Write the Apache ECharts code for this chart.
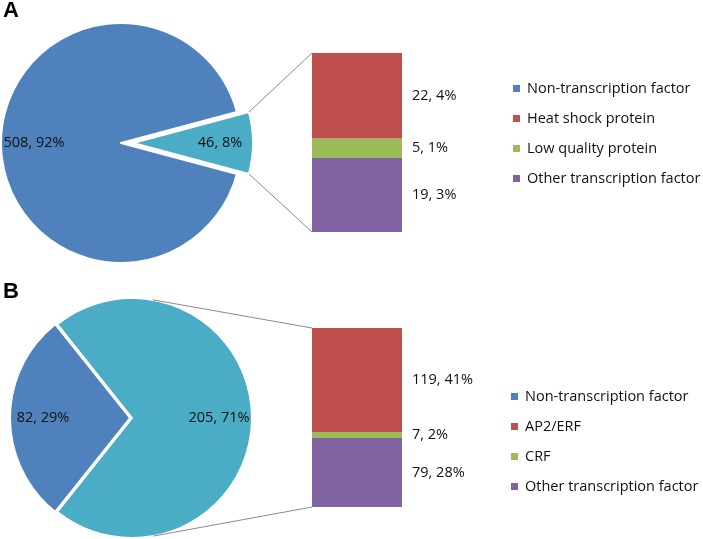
<!DOCTYPE html>
<html>
<head>
<meta charset="utf-8" />
<title></title>
<script type="text/javascript" src="https://cdn.jsdelivr.net/npm/echarts@6/dist/echarts.min.js"></script>
</head>
<body style="margin:0;background:#fff">
<div id="main" style="width:703px;height:539px;"></div>
<script>
// panel A
var pieNamesA = ['Non-transcription factor', 'Transcription factor'];
var pieValuesA = [508, 46];
var barNamesA = ['Heat shock protein', 'Low quality protein', 'Other transcription factor'];
var barValuesA = [22, 5, 19];
// panel B
var pieNamesB = ['Non-transcription factor', 'Transcription factor'];
var pieValuesB = [82, 205];
var barNamesB = ['AP2/ERF', 'CRF', 'Other transcription factor'];
var barValuesB = [119, 7, 79];

var pieColors = ['#4F81BD', '#4BACC6'];
var barColors = ['#C0504D', '#9BBB59', '#8064A2'];
var font = 'Open Sans';
var fontSize = 14.5;
var textColor = '#111';

function sum(a) { return a.reduce(function (s, v) { return s + v; }, 0); }

var R = 120;
var A = { center: [121, 143], offset: 12, grid: { left: 312, top: 53, width: 90, height: 179 } };
var B = { center: [132, 418], offset: 2, grid: { left: 312, top: 328, width: 90, height: 179 } };

// start angles so that the exploded part faces the bar
var fracA = pieValuesA[1] / sum(pieValuesA);
A.start = 360 - fracA * 360 / 2;            // transcription factor slice centered at 0 deg
var fracB = pieValuesB[0] / sum(pieValuesB);
B.start = 180 + fracB * 360 / 2;            // non-TF slice centered at 180 deg

function pieData(names, values, explode, color) {
  return names.map(function (n, i) {
    return {
      name: n, value: values[i], selected: i === explode,
      itemStyle: { color: color || pieColors[i] }
    };
  });
}

function pieSeries(names, values, cfg, explode, labelOnly) {
  var total = sum(values);
  return {
    type: 'pie',
    center: cfg.center,
    radius: labelOnly ? [R * 0.40, R] : [0, R],
    startAngle: cfg.start,
    clockwise: true,
    selectedMode: 'single',
    selectedOffset: cfg.offset,
    silent: true,
    animation: false,
    z: labelOnly ? 5 : 2,
    data: pieData(names, values, explode, labelOnly ? 'transparent' : null),
    itemStyle: labelOnly ? { borderWidth: 0 } : { borderColor: '#fff', borderWidth: 2 },
    select: { itemStyle: labelOnly ? { color: 'transparent', borderWidth: 0 } : { borderColor: '#fff', borderWidth: 2 } },
    label: {
      show: !!labelOnly, position: 'inside', fontFamily: font, fontSize: fontSize, color: textColor,
      formatter: function (p) { return p.value + ', ' + Math.round(p.value / total * 100) + '%'; }
    },
    labelLine: { show: false },
    emphasis: { disabled: true }
  };
}

function barSeries(names, values, grand, idx, stack) {
  // stack bottom-up: last item at bottom
  var out = [];
  for (var i = names.length - 1; i >= 0; i--) {
    out.push({
      name: names[i],
      type: 'bar',
      stack: stack,
      xAxisIndex: idx, yAxisIndex: idx,
      barWidth: '100%',
      animation: false,
      silent: true,
      itemStyle: { color: barColors[i] },
      label: {
        show: true, position: 'right', distance: 10,
        fontFamily: font, fontSize: fontSize, color: textColor,
        formatter: (function (v) { return v + ', ' + Math.round(v / grand * 100) + '%'; })(values[i])
      },
      data: [values[i]]
    });
  }
  return out;
}

function legend(left, top, names) {
  return {
    orient: 'vertical', left: left, top: top, padding: 0,
    icon: 'rect', itemWidth: 7, itemHeight: 7, itemGap: 15,
    selectedMode: false,
    itemStyle: { borderWidth: 0 },
    textStyle: { fontFamily: font, fontSize: fontSize, color: textColor, padding: [0, 0, 0, 2] },
    data: names
  };
}

var chart = echarts.init(document.getElementById('main'));
var option = {
  backgroundColor: '#fff',
  title: [
    { text: 'A', left: 3, top: 0, padding: 0, textStyle: { fontFamily: 'Liberation Sans', fontWeight: 'bold', fontSize: 22, color: '#000' } },
    { text: 'B', left: 3, top: 281, padding: 0, textStyle: { fontFamily: 'Liberation Sans', fontWeight: 'bold', fontSize: 22, color: '#000' } }
  ],
  legend: [
    legend(513, 81, [pieNamesA[0]].concat(barNamesA)),
    legend(511, 389, [pieNamesB[0]].concat(barNamesB))
  ],
  grid: [
    { left: A.grid.left, top: A.grid.top, width: A.grid.width, height: A.grid.height },
    { left: B.grid.left, top: B.grid.top, width: B.grid.width, height: B.grid.height }
  ],
  xAxis: [
    { type: 'category', gridIndex: 0, data: [''], show: false },
    { type: 'category', gridIndex: 1, data: [''], show: false }
  ],
  yAxis: [
    { type: 'value', gridIndex: 0, min: 0, max: sum(barValuesA), show: false },
    { type: 'value', gridIndex: 1, min: 0, max: sum(barValuesB), show: false }
  ],
  series: [].concat(
    pieSeries(pieNamesA, pieValuesA, A, 1, false),
    pieSeries(pieNamesA, pieValuesA, A, 1, true),
    pieSeries(pieNamesB, pieValuesB, B, 0, false),
    pieSeries(pieNamesB, pieValuesB, B, 0, true),
    barSeries(barNamesA, barValuesA, sum(pieValuesA), 0, 'a'),
    barSeries(barNamesB, barValuesB, sum(pieValuesB), 1, 'b')
  )
};
chart.setOption(option);

// connector lines between pie and bar
var lineStyle = { stroke: '#8a8a8a', lineWidth: 1 };
function rad(d) { return d * Math.PI / 180; }
var graphics = [];

// A: from the exploded slice corners to the bar corners
var topA = chart.convertToPixel({ yAxisIndex: 0 }, sum(barValuesA));
var botA = chart.convertToPixel({ yAxisIndex: 0 }, 0);
var half = fracA * 360 / 2;
var cxA = A.center[0] + A.offset, cyA = A.center[1];
[[half, topA], [-half, botA]].forEach(function (p) {
  graphics.push({
    type: 'line', z: 10,
    shape: { x1: cxA + R * Math.cos(rad(p[0])), y1: cyA - R * Math.sin(rad(p[0])), x2: A.grid.left, y2: p[1] },
    style: lineStyle
  });
});

// B: tangent from bar corners to the big slice
var topB = chart.convertToPixel({ yAxisIndex: 1 }, sum(barValuesB));
var botB = chart.convertToPixel({ yAxisIndex: 1 }, 0);
var cxB = B.center[0], cyB = B.center[1];
[[topB, 1], [botB, -1]].forEach(function (p) {
  var dx = B.grid.left - cxB, dy = cyB - p[0];
  var d = Math.sqrt(dx * dx + dy * dy);
  var ang = Math.atan2(dy, dx) + p[1] * Math.acos(R / d);
  graphics.push({
    type: 'line', z: 10,
    shape: { x1: cxB + R * Math.cos(ang), y1: cyB - R * Math.sin(ang), x2: B.grid.left, y2: p[0] },
    style: lineStyle
  });
});
chart.setOption({ graphic: graphics });
</script>
</body>
</html>
